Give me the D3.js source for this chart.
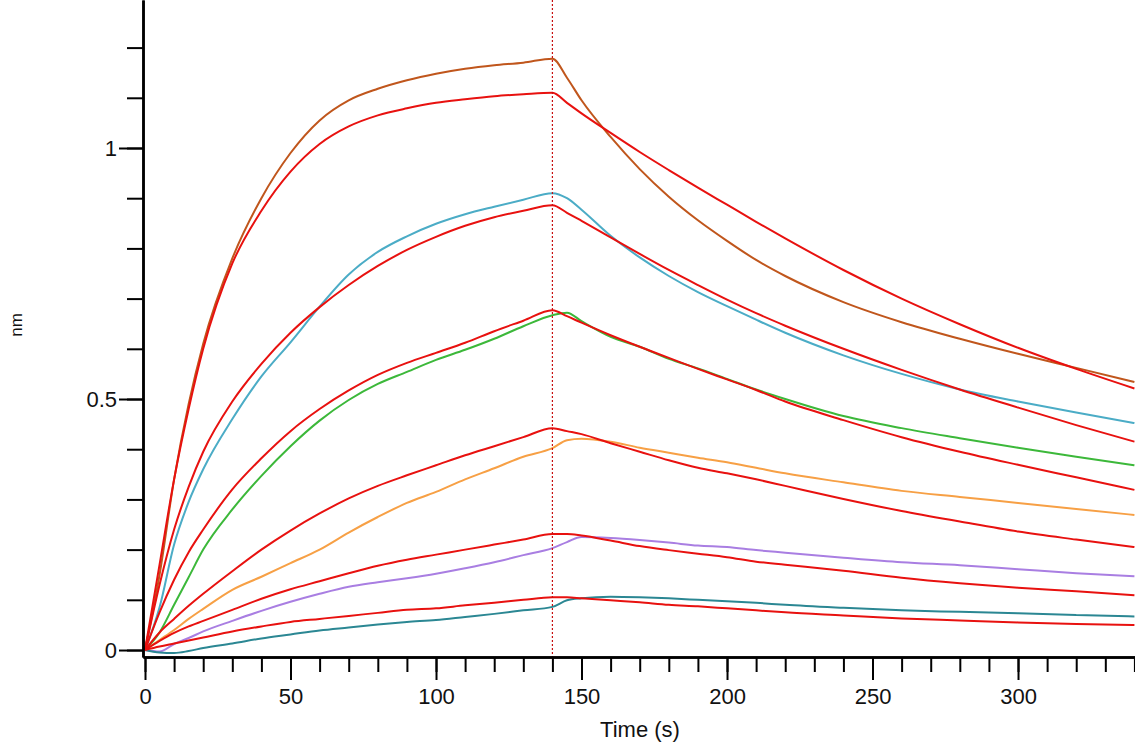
<!doctype html>
<html>
<head>
  <meta charset="utf-8" />
  <script src="https://cdnjs.cloudflare.com/ajax/libs/d3/7.8.5/d3.min.js"></script>
  <style>
  body{
    margin: 0;
    background: #fff;
    font-family: "Liberation Sans", Arial, sans-serif;
  }
  .axis path, .axis line{
    stroke: #000;
  }
  .axis path{
    stroke-width: 2.5px;
  }
  .axis line{
    stroke-width: 2px;
  }
  .axis text{
    font-family: "Liberation Sans", Arial, sans-serif;
    font-size: 22px;
    fill: #111;
  }
  .trace{
    fill: none;
    stroke-width: 2px;
  }
  </style>
</head>
<body>
  <div id="chart"></div>

  <script>
  // time grid (s) shared by all traces
  var times = [0, 5, 10, 15, 20, 30, 40, 50, 60, 70, 80, 90, 100, 110, 120, 130, 140,
               145, 150, 160, 170, 180, 190, 200, 210, 220, 240, 260, 280, 300, 320, 340];

  // measured responses (nm)
  var brown  = [0, 0.15, 0.34, 0.49, 0.61, 0.78, 0.90, 0.99, 1.055, 1.095, 1.118, 1.135, 1.148, 1.158, 1.165, 1.17, 1.178,
                1.14, 1.095, 1.022, 0.958, 0.903, 0.856, 0.815, 0.777, 0.745, 0.693, 0.653, 0.62, 0.59, 0.562, 0.534];
  var cyan   = [0, 0.085, 0.21, 0.295, 0.36, 0.46, 0.545, 0.613, 0.684, 0.748, 0.793, 0.824, 0.849, 0.868, 0.883, 0.897, 0.91,
                0.9, 0.877, 0.825, 0.782, 0.745, 0.713, 0.685, 0.658, 0.632, 0.587, 0.55, 0.519, 0.495, 0.473, 0.452];
  var green  = [0, 0.035, 0.09, 0.145, 0.2, 0.28, 0.347, 0.406, 0.457, 0.498, 0.53, 0.554, 0.578, 0.598, 0.62, 0.645, 0.667,
                0.672, 0.655, 0.624, 0.604, 0.58, 0.561, 0.54, 0.519, 0.5, 0.466, 0.442, 0.422, 0.403, 0.385, 0.368];
  var orange = [0, 0.02, 0.04, 0.062, 0.082, 0.12, 0.146, 0.173, 0.2, 0.234, 0.265, 0.293, 0.315, 0.34, 0.362, 0.385, 0.402,
                0.418, 0.421, 0.415, 0.403, 0.393, 0.383, 0.374, 0.363, 0.352, 0.334, 0.317, 0.305, 0.293, 0.281, 0.269];
  var purple = [0, -0.003, 0.012, 0.024, 0.037, 0.058, 0.078, 0.096, 0.112, 0.126, 0.135, 0.143, 0.152, 0.163, 0.175, 0.189, 0.203,
                0.215, 0.225, 0.223, 0.219, 0.214, 0.208, 0.205, 0.199, 0.194, 0.184, 0.175, 0.169, 0.161, 0.153, 0.147];
  var teal   = [0, -0.005, -0.006, -0.002, 0.004, 0.013, 0.023, 0.031, 0.039, 0.045, 0.051, 0.056, 0.06, 0.066, 0.072, 0.079, 0.086,
                0.099, 0.103, 0.106, 0.105, 0.103, 0.1, 0.097, 0.094, 0.09, 0.084, 0.079, 0.076, 0.073, 0.07, 0.067];

  // fitted curves (red)
  var fit1 = [0, 0.17, 0.34, 0.48, 0.60, 0.77, 0.875, 0.953, 1.008, 1.043, 1.065, 1.079, 1.09, 1.097, 1.103, 1.107, 1.11,
              1.09, 1.069, 1.03, 0.992, 0.956, 0.921, 0.887, 0.853, 0.82, 0.757, 0.70, 0.649, 0.602, 0.56, 0.521];
  var fit2 = [0, 0.13, 0.24, 0.325, 0.395, 0.495, 0.57, 0.632, 0.683, 0.727, 0.765, 0.797, 0.823, 0.845, 0.862, 0.875, 0.886,
              0.871, 0.855, 0.822, 0.789, 0.757, 0.727, 0.698, 0.671, 0.646, 0.60, 0.558, 0.519, 0.483, 0.448, 0.415];
  var fit3 = [0, 0.075, 0.14, 0.195, 0.24, 0.32, 0.382, 0.436, 0.48, 0.517, 0.548, 0.572, 0.592, 0.612, 0.635, 0.656, 0.677,
              0.665, 0.652, 0.627, 0.604, 0.582, 0.56, 0.539, 0.518, 0.495, 0.458, 0.424, 0.395, 0.369, 0.344, 0.319];
  var fit4 = [0, 0.035, 0.062, 0.088, 0.112, 0.157, 0.2, 0.238, 0.272, 0.302, 0.327, 0.348, 0.368, 0.388, 0.406, 0.424, 0.442,
              0.436, 0.43, 0.412, 0.395, 0.378, 0.363, 0.352, 0.34, 0.327, 0.301, 0.277, 0.256, 0.236, 0.22, 0.205];
  var fit5 = [0, 0.018, 0.034, 0.047, 0.058, 0.08, 0.102, 0.121, 0.137, 0.153, 0.168, 0.18, 0.19, 0.2, 0.21, 0.22, 0.231,
              0.231, 0.228, 0.218, 0.207, 0.199, 0.192, 0.185, 0.176, 0.17, 0.158, 0.144, 0.133, 0.124, 0.117, 0.109];
  var fit6 = [0, 0.007, 0.013, 0.019, 0.025, 0.037, 0.047, 0.056, 0.062, 0.068, 0.074, 0.08, 0.083, 0.089, 0.094, 0.1, 0.105,
              0.105, 0.103, 0.099, 0.095, 0.09, 0.087, 0.083, 0.079, 0.075, 0.069, 0.063, 0.059, 0.055, 0.052, 0.05];

  var dataColors = ['#c0561c', '#4bacc6', '#3cb83a', '#f7a045', '#a97ee2', '#2b8793'];
  var fitColor = '#e8110f';
  var switchTime = 140;

  var xMajor = [0, 50, 100, 150, 200, 250, 300];
  var yMajor = [0, 0.5, 1];

  var width = 1135, height = 745;

  var svg = d3.select("#chart")
    .append("svg")
    .attr("width", width)
    .attr("height", height);

  var x = d3.scaleLinear()
    .domain([-0.69, 340.2])
    .range([143, 1135]);

  var y = d3.scaleLinear()
    .domain([-0.0139, 1.2948])
    .range([657, 0]);

  var line = d3.line()
    .x(function(d){ return x(d[0]); })
    .y(function(d){ return y(d[1]); })
    .curve(d3.curveMonotoneX);

  function pts(vals){
    return times.map(function(t, i){ return [t, vals[i]]; });
  }

  // measured traces
  [brown, cyan, green, orange, purple, teal].forEach(function(s, i){
    svg.append("path")
      .attr("class", "trace")
      .attr("stroke", dataColors[i])
      .attr("d", line(pts(s)));
  });

  // fits on top
  [fit1, fit2, fit3, fit4, fit5, fit6].forEach(function(s){
    svg.append("path")
      .attr("class", "trace")
      .attr("stroke", fitColor)
      .attr("d", line(pts(s)));
  });

  // association / dissociation switch
  svg.append("line")
    .attr("x1", x(switchTime)).attr("x2", x(switchTime))
    .attr("y1", 0).attr("y2", 657)
    .attr("stroke", "#c81010")
    .attr("stroke-width", 1.2)
    .attr("stroke-dasharray", "2,2");

  // y axis
  var yMinorTicks = d3.range(0, 1.25, 0.1);
  svg.append("g")
    .attr("class", "axis")
    .attr("transform", "translate(143,0)")
    .call(d3.axisLeft(y).tickValues(yMinorTicks).tickSize(16).tickFormat("").tickSizeOuter(0));

  svg.append("g")
    .attr("class", "axis")
    .attr("transform", "translate(143,0)")
    .call(d3.axisLeft(y).tickValues(yMajor).tickSize(24).tickPadding(2).tickSizeOuter(0)
      .tickFormat(function(d){ return d3.format("")(d); }));

  // x axis
  var xMinorTicks = d3.range(0, 341, 10);
  svg.append("g")
    .attr("class", "axis")
    .attr("transform", "translate(0,657)")
    .call(d3.axisBottom(x).tickValues(xMinorTicks).tickSize(15).tickFormat("").tickSizeOuter(0));

  svg.append("g")
    .attr("class", "axis")
    .attr("transform", "translate(0,657)")
    .call(d3.axisBottom(x).tickValues(xMajor).tickSize(23).tickPadding(8).tickSizeOuter(0));

  // axis titles
  svg.append("text")
    .attr("x", 640)
    .attr("y", 737)
    .attr("text-anchor", "middle")
    .style("font-size", "22px")
    .style("fill", "#111")
    .text("Time (s)");

  svg.append("text")
    .attr("transform", "translate(22,325) rotate(-90)")
    .attr("text-anchor", "middle")
    .style("font-size", "17px")
    .style("fill", "#111")
    .text("nm");
  </script>
</body>
</html>
